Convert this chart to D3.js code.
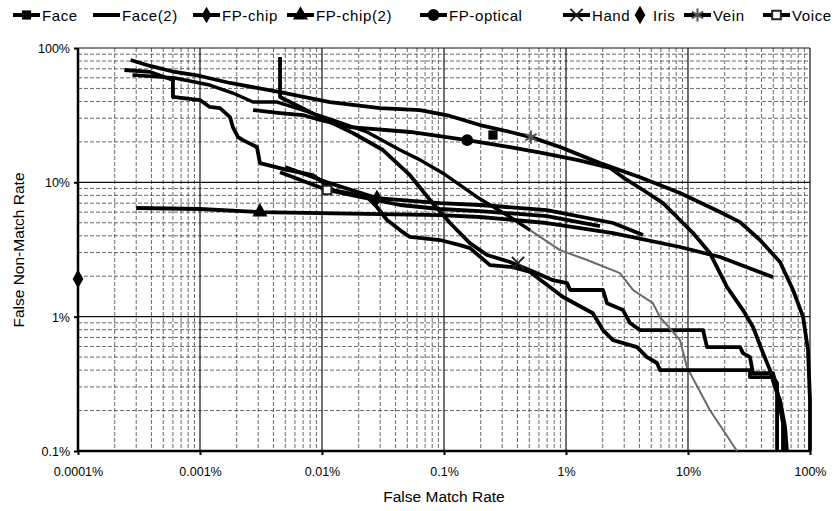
<!DOCTYPE html>
<html>
<head>
<meta charset="utf-8">
<script src="https://cdn.jsdelivr.net/npm/d3@7"></script>
<style>
body { margin: 0; background: #fff; }
text { font-family: "Liberation Sans", Arial, sans-serif; fill: #000; }
</style>
</head>
<body>
<svg id="chart"></svg>
<script>
// series, in legend order
const seriesNames = ['Face', 'Face(2)', 'FP-chip', 'FP-chip(2)', 'FP-optical', 'Hand', 'Iris', 'Vein', 'Voice'];

// tick labels
const xTickValues = [0.0001, 0.001, 0.01, 0.1, 1, 10, 100];
const xTickLabels = ['0.0001%', '0.001%', '0.01%', '0.1%', '1%', '10%', '100%'];
const yTickValues = [0.1, 1, 10, 100];
const yTickLabels = ['0.1%', '1%', '10%', '100%'];

// DET curves (FMR %, FNMR %)
const faceFmr = [0.00453, 0.00453, 0.0066, 0.00964, 0.0179, 0.0316, 0.0526, 0.0768, 0.112, 0.163, 0.225, 0.348, 0.507, 0.782, 1.02, 1.08, 2.01, 2.17, 2.93, 3.35, 4.04, 13.3, 14.3, 26.7, 28.2, 32.2, 34.1, 49.8, 53.7, 56.8, 60.1, 60.1];
const faceFnmr = [85.7, 43.2, 36.4, 30.6, 23.3, 17.4, 11.3, 7.38, 4.98, 3.53, 2.88, 2.55, 2.22, 1.87, 1.78, 1.58, 1.58, 1.26, 1.12, 0.896, 0.794, 0.794, 0.594, 0.594, 0.536, 0.5, 0.38, 0.38, 0.284, 0.212, 0.161, 0.1];

const face2Fmr = [0.00028, 0.00062, 0.0012, 0.00186, 0.00272, 0.00428, 0.00698, 0.0123, 0.0234, 0.0436, 0.0636, 0.098, 0.186, 0.348, 0.507, 0.893, 1.49, 2.77, 3.54, 5.16, 5.89, 8.6, 9.8, 15.1, 25.2];
const face2Fnmr = [62.9, 59.8, 53.0, 46.2, 39.6, 39.6, 34.5, 29.1, 23.7, 17.4, 14.7, 11.7, 7.78, 5.52, 4.41, 3.13, 2.64, 2.11, 1.58, 1.26, 0.993, 0.669, 0.421, 0.202, 0.1];

const fpChipFmr = [0.00498, 0.011, 0.0282, 0.0927, 0.197, 0.698, 2.43, 4.28];
const fpChipFnmr = [13.0, 10.0, 7.64, 7.01, 6.78, 6.22, 4.98, 4.05];

const fpChip2Fmr = [0.0003, 0.001, 0.0031, 0.00964, 0.0927, 0.197, 0.698, 2.43, 8.6, 18.3, 49.8];
const fpChip2Fnmr = [6.44, 6.33, 6.01, 5.90, 5.71, 5.52, 4.98, 4.19, 3.30, 2.78, 1.97];

const fpOpticalFmr = [0.00272, 0.00453, 0.00698, 0.00964, 0.017, 0.0526, 0.155, 0.348, 0.647, 1.23, 2.30, 2.93, 4.28, 6.24, 8.13, 11.0, 15.1, 20.9, 28.2, 34.1, 41.2, 47.0, 51.6, 56.8, 62.4, 64.7];
const fpOpticalFnmr = [34.5, 32.8, 31.7, 29.1, 25.8, 23.7, 20.6, 18.3, 16.5, 14.7, 12.8, 10.9, 8.77, 7.01, 5.52, 4.19, 2.98, 1.66, 1.12, 0.837, 0.536, 0.400, 0.299, 0.239, 0.151, 0.1];

const handFmr = [0.00024, 0.00039, 0.0006, 0.0006, 0.001, 0.0012, 0.00146, 0.00176, 0.00186, 0.00205, 0.00225, 0.00293, 0.0031, 0.00354, 0.00516, 0.00844, 0.0123, 0.0234, 0.0282, 0.0341, 0.0436, 0.0526, 0.0927, 0.135, 0.163, 0.238, 0.368, 0.507, 0.945, 1.66, 2.01, 2.43, 3.82, 4.61, 5.57, 5.89, 32.2, 32.2, 49.8, 53.7, 53.7];
const handFnmr = [68.6, 66.3, 57.8, 43.2, 41.0, 36.4, 35.7, 30.6, 25.8, 21.7, 20.6, 18.3, 13.9, 13.5, 12.4, 11.3, 8.77, 7.78, 6.55, 5.24, 4.41, 3.92, 3.72, 3.41, 3.24, 2.42, 2.34, 2.15, 1.40, 1.06, 0.794, 0.669, 0.594, 0.5, 0.452, 0.4, 0.4, 0.355, 0.355, 0.32, 0.1];

const irisFmr = [0.0001];
const irisFnmr = [1.91];

const veinFmr = [0.00027, 0.00039, 0.00062, 0.001, 0.00176, 0.00453, 0.0116, 0.0299, 0.0636, 0.112, 0.197, 0.348, 0.516, 0.893, 1.90, 4.04, 8.6, 18.3, 26.7, 38.9, 56.8, 72.6, 87.7, 96.3, 100, 100];
const veinFnmr = [81.4, 73.5, 66.3, 61.9, 54.9, 47.0, 39.6, 35.7, 34.5, 31.2, 26.7, 23.7, 21.7, 18.3, 13.9, 10.9, 8.32, 6.01, 5.06, 3.72, 2.55, 1.58, 1.0, 0.564, 0.239, 0.1];

const voiceFmr = [0.00453, 0.011, 0.0205, 0.0436, 0.0927, 0.197, 0.698, 1.90];
const voiceFnmr = [11.9, 8.77, 7.78, 6.78, 6.33, 6.11, 5.61, 4.73];

// single marked point on each curve (none for Face(2))
const markerFmr = [0.252, null, 0.0282, 0.0031, 0.155, 0.404, 0.0001, 0.516, 0.011];
const markerFnmr = [22.5, null, 7.64, 6.01, 20.6, 2.51, 1.91, 21.7, 8.77];

const curveFmr = [faceFmr, face2Fmr, fpChipFmr, fpChip2Fmr, fpOpticalFmr, handFmr, irisFmr, veinFmr, voiceFmr];
const curveFnmr = [faceFnmr, face2Fnmr, fpChipFnmr, fpChip2Fnmr, fpOpticalFnmr, handFnmr, irisFnmr, veinFnmr, voiceFnmr];

class DetChart {
    constructor (config, series) {
        this.config = {
            parent: config.parent,
            width: config.width || 837,
            height: config.height || 511,
            margin: config.margin || {top:48, right:27, bottom:60, left:78},
            legend_x: config.legend_x
        };
        this.series = series;
        this.init();
    }

    init() {
        let self = this;

        self.svg = d3.select(self.config.parent)
            .attr('width', self.config.width)
            .attr('height', self.config.height);

        self.inner_width = self.config.width - self.config.margin.left - self.config.margin.right;
        self.inner_height = self.config.height - self.config.margin.top - self.config.margin.bottom;

        self.chart = self.svg.append('g')
            .attr('transform', `translate(${self.config.margin.left}, ${self.config.margin.top})`);

        self.xscale = d3.scaleLog()
            .domain([0.0001, 100])
            .range([0, self.inner_width]);

        self.yscale = d3.scaleLog()
            .domain([0.1, 100])
            .range([self.inner_height, 0]);

        // marker shapes
        self.symbols = {
            'Face':       {type: d3.symbolSquare, size: 85, fill: '#000', stroke: 'none'},
            'FP-chip':    {type: d3.symbolDiamond, size: 80, fill: '#000', stroke: 'none'},
            'FP-chip(2)': {type: d3.symbolTriangle, size: 100, fill: '#000', stroke: 'none'},
            'FP-optical': {type: d3.symbolCircle, size: 110, fill: '#000', stroke: 'none'},
            'Hand':       {type: d3.symbolX, size: 100, fill: 'none', stroke: '#222'},
            'Iris':       {type: d3.symbolDiamond, size: 100, fill: '#000', stroke: 'none'},
            'Vein':       {type: d3.symbolAsterisk, size: 120, fill: 'none', stroke: '#555'},
            'Voice':      {type: d3.symbolSquare, size: 75, fill: '#fff', stroke: '#222'}
        };
    }

    update() {
        let self = this;
        self.line = d3.line()
            .x(d => self.xscale(d.fmr))
            .y(d => self.yscale(d.fnmr));
        self.render();
    }

    render() {
        let self = this;
        let w = self.inner_width, h = self.inner_height;

        // grid
        let minorX = [], minorY = [];
        [0.0001, 0.001, 0.01, 0.1, 1, 10].forEach(d => {
            for (let k = 2; k < 10; k++) minorX.push(d * k);
        });
        [0.1, 1, 10].forEach(d => {
            for (let k = 2; k < 10; k++) minorY.push(d * k);
        });

        let grid = self.chart.append('g');
        grid.selectAll('.vminor').data(minorX).enter().append('line')
            .attr('x1', d => self.xscale(d)).attr('x2', d => self.xscale(d))
            .attr('y1', 0).attr('y2', h)
            .attr('stroke', '#444').attr('stroke-width', 0.8)
            .attr('stroke-dasharray', '4,2');
        grid.selectAll('.hminor').data(minorY).enter().append('line')
            .attr('x1', 0).attr('x2', w)
            .attr('y1', d => self.yscale(d)).attr('y2', d => self.yscale(d))
            .attr('stroke', '#444').attr('stroke-width', 0.8)
            .attr('stroke-dasharray', '4,2');
        grid.selectAll('.vmajor').data(xTickValues).enter().append('line')
            .attr('x1', d => self.xscale(d)).attr('x2', d => self.xscale(d))
            .attr('y1', 0).attr('y2', h)
            .attr('stroke', '#111').attr('stroke-width', 1.2);
        grid.selectAll('.hmajor').data(yTickValues).enter().append('line')
            .attr('x1', 0).attr('x2', w)
            .attr('y1', d => self.yscale(d)).attr('y2', d => self.yscale(d))
            .attr('stroke', '#111').attr('stroke-width', 1.2);

        // axes
        let xaxis = d3.axisBottom(self.xscale)
            .tickValues(xTickValues)
            .tickFormat((d, i) => xTickLabels[i])
            .tickSize(4)
            .tickPadding(12);
        let yaxis = d3.axisLeft(self.yscale)
            .tickValues(yTickValues)
            .tickFormat((d, i) => yTickLabels[i])
            .tickSize(4)
            .tickPadding(4);

        let xg = self.chart.append('g')
            .attr('transform', `translate(0, ${h})`)
            .call(xaxis);
        let yg = self.chart.append('g').call(yaxis);
        [xg, yg].forEach(g => {
            g.select('.domain').remove();
            g.selectAll('.tick line').attr('stroke', '#000').attr('stroke-width', 2);
            g.selectAll('.tick text')
                .style('font-size', '12.5px')
                .style('font-family', '"Liberation Sans", Arial, sans-serif')
                .attr('fill', '#000');
        });
        yg.selectAll('.tick text').attr('dy', '0.35em');

        self.chart.append('line')
            .attr('x1', 0).attr('x2', 0).attr('y1', 0).attr('y2', h + 1)
            .attr('stroke', '#000').attr('stroke-width', 2.5);
        self.chart.append('line')
            .attr('x1', -1).attr('x2', w).attr('y1', h).attr('y2', h)
            .attr('stroke', '#000').attr('stroke-width', 2.5);

        // curves
        let curves = self.series.filter(s => s.points.length > 1);
        self.chart.selectAll('.curve')
            .data(curves)
            .enter()
            .append('path')
            .attr('d', s => self.line(s.points))
            .attr('fill', 'none')
            .attr('stroke', s => s.name == 'Face(2)' ? '#6a6a6a' : '#000')
            .attr('stroke-width', s => s.name == 'Face(2)' ? 2 : 3.8)
            .attr('stroke-linejoin', 'round');

        // Face(2) prints heavy where its points are dense (low FMR)
        let face2 = self.series.find(s => s.name == 'Face(2)');
        self.chart.append('path')
            .attr('d', self.line(face2.points.filter(d => d.fmr <= 0.51)))
            .attr('fill', 'none')
            .attr('stroke', '#000')
            .attr('stroke-width', 3.4)
            .attr('stroke-linejoin', 'round');

        // marked points
        let marked = self.series.filter(s => s.marker != null);
        self.chart.selectAll('.mark')
            .data(marked)
            .enter()
            .append('path')
            .attr('transform', s => `translate(${self.xscale(s.marker.fmr)}, ${self.yscale(s.marker.fnmr)})`)
            .attr('d', s => d3.symbol().type(self.symbols[s.name].type).size(self.symbols[s.name].size)())
            .attr('fill', s => self.symbols[s.name].fill)
            .attr('stroke', s => self.symbols[s.name].stroke)
            .attr('stroke-width', 2);

        // axis titles
        self.svg.append('text')
            .attr('x', self.config.margin.left + w / 2)
            .attr('y', 502)
            .attr('text-anchor', 'middle')
            .style('font-size', '15.5px')
            .text('False Match Rate');
        self.svg.append('text')
            .attr('transform', 'translate(24, 250) rotate(-90)')
            .attr('text-anchor', 'middle')
            .style('font-size', '15.5px')
            .text('False Non-Match Rate');

        // legend
        let legend = self.svg.append('g')
            .selectAll('g')
            .data(self.series)
            .enter()
            .append('g')
            .attr('transform', (s, i) => `translate(${self.config.legend_x[i]}, 15)`);

        legend.filter(s => s.name != 'Iris')
            .append('line')
            .attr('x1', 0).attr('x2', 27)
            .attr('stroke', '#000')
            .attr('stroke-width', 4);

        legend.filter(s => self.symbols[s.name])
            .append('path')
            .attr('transform', s => s.name == 'Iris' ? 'translate(3, 0)' : 'translate(13.5, 0)')
            .attr('d', s => d3.symbol().type(self.symbols[s.name].type).size(self.symbols[s.name].size)())
            .attr('fill', s => self.symbols[s.name].fill)
            .attr('stroke', s => self.symbols[s.name].stroke)
            .attr('stroke-width', 2);

        legend.append('text')
            .attr('x', s => s.name == 'Iris' ? 16 : 29)
            .attr('y', 5.5)
            .style('font-size', '15px')
            .style('letter-spacing', '0.6px')
            .text(s => s.name);
    }
}

let series = seriesNames.map((name, i) => ({
    name: name,
    points: curveFmr[i].map((f, j) => ({fmr: f, fnmr: curveFnmr[i][j]})),
    marker: markerFmr[i] == null ? null : {fmr: markerFmr[i], fnmr: markerFnmr[i]}
}));

let chart = new DetChart({
    parent: '#chart',
    width: 837,
    height: 511,
    legend_x: [13, 93, 193, 287, 420, 563, 637, 684, 763]
}, series);
chart.update();
</script>
</body>
</html>
